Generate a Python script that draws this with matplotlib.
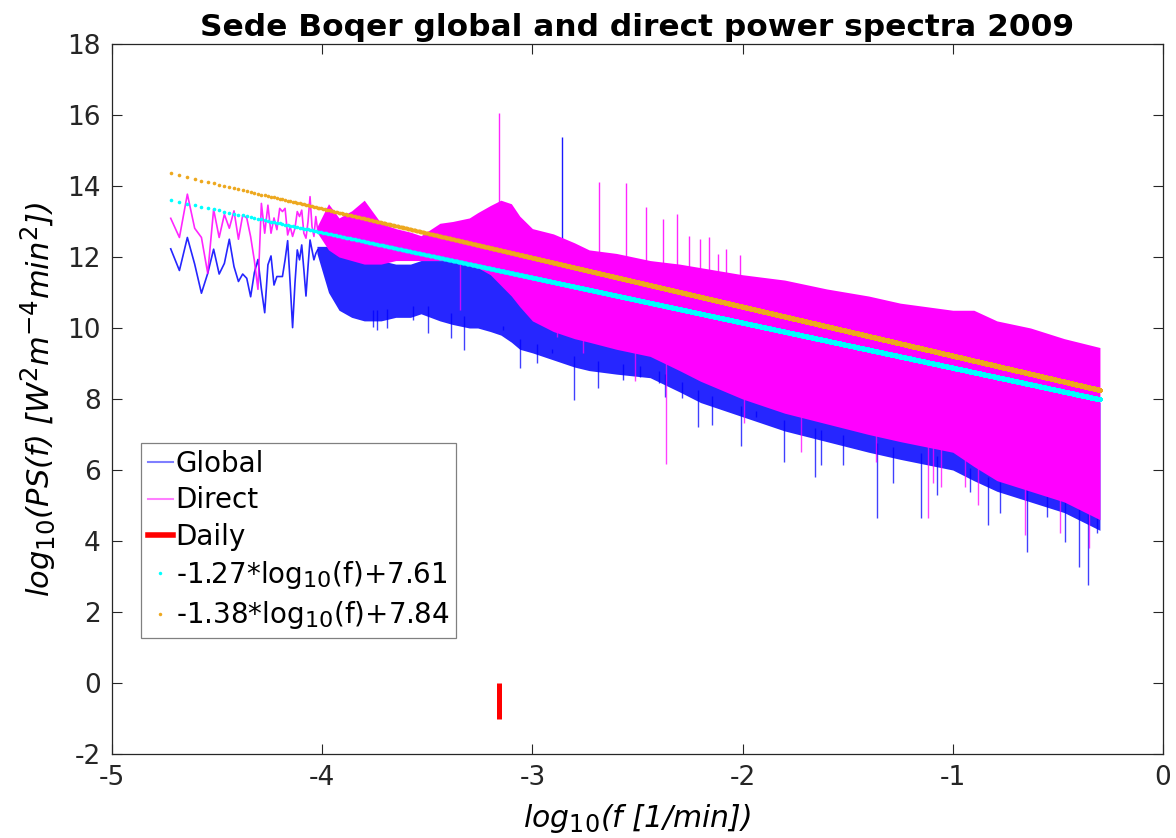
import numpy as np
import matplotlib
matplotlib.use('Agg')
import matplotlib.pyplot as plt
from matplotlib.lines import Line2D
try:
    import matplotlib._mathtext as _mt
    _mt.SHRINK_FACTOR = 0.8
except Exception:
    pass

plt.rcParams['font.family'] = ['DejaVu Sans']
plt.rcParams['mathtext.fontset'] = 'dejavusans'
plt.rcParams['mathtext.default'] = 'regular'
plt.rcParams['axes.unicode_minus'] = False

# ---------------- data ----------------
n_minutes = 525600          # one year of 1-minute samples
k_first = 10                # first plotted frequency index
k_last = 262800             # Nyquist index

# low-frequency part: one value per frequency index k = 10..50 (f = k / n_minutes)
k_low = list(range(10, 51))
global_low = [12.23, 11.62, 12.55, 11.80, 10.98, 11.54, 12.22, 11.52, 11.82, 12.50,
              11.73, 11.31, 11.52, 11.40, 10.88, 11.56, 11.93, 11.10, 10.43, 11.78,
              12.03, 11.21, 11.45, 11.45, 11.45, 11.92, 12.46, 11.26, 10.01, 11.26,
              12.20, 11.92, 12.34, 11.64, 10.90, 11.73, 12.48, 12.20, 11.92, 12.10,
              12.20]
direct_low = [13.09, 12.55, 13.77, 12.81, 12.55, 11.54, 13.34, 12.55, 13.20, 12.81,
              13.30, 12.50, 13.18, 13.10, 12.57, 11.90, 11.09, 13.51, 12.67, 13.46,
              12.67, 13.10, 12.77, 13.37, 13.28, 13.37, 12.62, 12.86, 12.58, 12.81,
              13.28, 13.14, 13.32, 12.67, 12.53, 13.00, 13.70, 12.86, 12.58, 13.14,
              12.77]

# dense part: envelopes of the spectra (x = log10 f)
env_x = [-4.025, -3.97, -3.92, -3.86, -3.80, -3.72, -3.65, -3.58, -3.53, -3.44, -3.38,
         -3.30, -3.26, -3.20, -3.15, -3.10, -3.06, -3.00, -2.90, -2.80, -2.73,
         -2.60, -2.44, -2.30, -2.20, -2.00, -1.80, -1.60, -1.40, -1.25, -1.00,
         -0.90, -0.79, -0.63, -0.47, -0.30]
direct_upper = [12.85, 13.5, 13.1, 13.3, 13.6, 12.95, 12.8, 12.7, 12.6, 12.95, 13.0,
                13.1, 13.25, 13.45, 13.6, 13.5, 13.15, 12.8, 12.65, 12.4, 12.2,
                12.1, 11.9, 11.8, 11.7, 11.5, 11.35, 11.1, 10.9, 10.7, 10.5,
                10.5, 10.2, 10.0, 9.7, 9.45]
direct_lower = [12.7, 12.2, 12.0, 11.9, 11.8, 11.8, 11.9, 11.9, 11.9, 11.9, 11.9,
                11.8, 11.7, 11.5, 11.2, 10.9, 10.6, 10.2, 9.9, 9.7, 9.6,
                9.4, 9.2, 8.8, 8.5, 8.0, 7.6, 7.3, 7.0, 6.8, 6.5,
                6.1, 5.7, 5.4, 5.1, 4.6]
global_upper = [12.3, 12.3, 12.1, 12.0, 12.1, 11.9, 11.8, 11.8, 11.9, 11.9, 11.9,
                12.0, 12.1, 12.3, 12.4, 12.0, 11.8, 11.6, 11.4, 11.2, 11.1,
                10.9, 10.7, 10.5, 10.4, 10.1, 9.9, 9.6, 9.4, 9.2, 8.9,
                8.8, 8.6, 8.4, 8.1, 7.9]
global_lower = [12.1, 11.0, 10.5, 10.3, 10.2, 10.2, 10.3, 10.3, 10.4, 10.2, 10.1,
                10.0, 10.0, 9.9, 9.8, 9.6, 9.4, 9.3, 9.1, 8.9, 8.8,
                8.7, 8.6, 8.2, 7.9, 7.5, 7.1, 6.8, 6.5, 6.3, 6.0,
                5.7, 5.4, 5.1, 4.8, 4.3]

# isolated peaks (x = log10 f, value)
direct_peak_x = [-3.158, -2.681, -2.556, -2.459, -2.380, -2.313, -2.255, -2.204,
                 -2.158, -2.117, -2.079, -2.012]
direct_peak_top = [16.05, 14.10, 14.08, 13.42, 13.06, 13.21, 12.59, 12.52,
                   12.57, 12.08, 12.22, 12.06]
global_peak_x = [-2.857]
global_peak_top = [15.38]

# isolated dips
global_dip_x = [-3.757, -3.741, -3.693, -3.567, -3.495, -3.389, -3.325, -3.138,
                -3.059, -2.980, -2.908, -2.800, -2.686, -2.570, -2.488, -2.400,
                -2.369, -2.290, -2.214, -2.147, -2.008, -1.934, -1.802, -1.656,
                -1.627, -1.524, -1.362, -1.283, -1.153, -1.074, -0.918, -0.831,
                -0.776, -0.649, -0.554, -0.466, -0.400, -0.355, -0.316]
global_dip_bottom = [10.04, 9.94, 9.99, 10.23, 9.85, 9.71, 9.38, 9.94,
                     8.86, 9.00, 9.29, 7.97, 8.30, 8.54, 8.63, 8.44,
                     8.06, 8.02, 7.22, 7.27, 6.68, 7.50, 6.23, 5.81,
                     6.14, 6.14, 4.64, 5.63, 4.64, 5.30, 5.39, 4.45,
                     4.78, 3.70, 4.69, 3.98, 3.28, 2.76, 4.22]
direct_dip_x = [-3.344, -2.885, -2.758, -2.510, -2.366, -1.993, -1.720, -1.367,
                -1.116, -1.093, -1.056, -0.942, -0.879, -0.657, -0.490, -0.351]
direct_dip_bottom = [10.50, 9.75, 9.29, 8.50, 6.17, 7.31, 6.52, 6.23,
                     4.64, 5.63, 5.53, 5.53, 5.01, 4.17, 4.22, 3.79]

# power-law fits
fit_slope = [-1.27, -1.38]
fit_intercept = [7.61, 7.84]
fit_colors = ['#00FFFF', '#EDA81F']

# daily marker
daily_period_min = 1440
daily_y = [-1, 0]

# ---------------- plot ----------------
fig = plt.figure(figsize=(11.76, 8.38), dpi=100)
ax = fig.add_axes([112/1176, 1-754/838, 1051/1176, 710/838])

blue = (0, 0, 1)
mag = (1, 0, 1)

x_low = np.log10(np.array(k_low) / n_minutes)

# Global
ax.plot(x_low, global_low, color=blue, lw=1.2, alpha=0.85, zorder=2)
ax.fill_between(env_x, global_lower, global_upper, color=blue, lw=0, alpha=0.85, zorder=2)
gl_top = np.interp(global_dip_x, env_x, global_lower) + 0.3
ax.vlines(global_dip_x, global_dip_bottom, gl_top, color=blue, lw=1.0, alpha=0.75, zorder=2)
gp_bot = np.interp(global_peak_x, env_x, global_upper) - 0.3
ax.vlines(global_peak_x, gp_bot, global_peak_top, color=blue, lw=1.0, alpha=0.9, zorder=2)

# Direct
ax.plot(x_low, direct_low, color=mag, lw=1.2, alpha=0.85, zorder=3)
ax.fill_between(env_x, direct_lower, direct_upper, color=mag, lw=0, alpha=1.0, zorder=3)
dl_top = np.interp(direct_dip_x, env_x, direct_lower) + 0.3
ax.vlines(direct_dip_x, direct_dip_bottom, dl_top, color=mag, lw=1.0, alpha=0.75, zorder=3)
dp_bot = np.interp(direct_peak_x, env_x, direct_upper) - 0.3
ax.vlines(direct_peak_x, dp_bot, direct_peak_top, color=mag, lw=1.0, alpha=0.85, zorder=3)

# Daily
x_daily = np.log10(1.0 / daily_period_min)
ax.plot([x_daily, x_daily], daily_y, color='red', lw=3.6, zorder=4, solid_capstyle='butt')

# fits evaluated on the frequency grid
x_all = np.log10(np.arange(k_first, k_last + 1) / n_minutes)
for s, b, c in zip(fit_slope, fit_intercept, fit_colors):
    ax.plot(x_all, s * x_all + b, ls='none', marker='o', ms=2.6, mew=0, color=c, zorder=5)

ax.set_xlim(-5, 0)
ax.set_ylim(-2, 18)
ax.set_xticks(range(-5, 1))
ax.set_yticks(range(-2, 19, 2))
ax.tick_params(direction='in', top=True, right=True, length=7, width=0.8,
               colors='#262626', labelsize=19, pad=8)
for sp in ax.spines.values():
    sp.set_color('#262626')
    sp.set_linewidth(0.9)

ax.set_title('Sede Boqer global and direct power spectra 2009', fontsize=22.5,
             fontweight='bold', pad=6)
ax.set_xlabel(r'log$_{\mathit{10}}$(f [1/min])', fontsize=21.5, fontstyle='italic',
              labelpad=8)
ax.set_ylabel(r'log$_{\mathit{10}}$(PS(f) [W$^{\mathit{2}}$m$^{\mathit{-4}}$min$^{\mathit{2}}$])',
              fontsize=22, fontstyle='italic', labelpad=6)

handles = [
    Line2D([], [], color=blue, alpha=0.5, lw=1.5),
    Line2D([], [], color=mag, alpha=0.5, lw=1.5),
    Line2D([], [], color='red', lw=4),
    Line2D([], [], color=fit_colors[0], ls='none', marker='o', ms=2.5, mew=0),
    Line2D([], [], color=fit_colors[1], ls='none', marker='o', ms=2.5, mew=0),
]
labels = ['Global', 'Direct', 'Daily',
          r'-1.27*log$_{10}$(f)+7.61', r'-1.38*log$_{10}$(f)+7.84']
leg = ax.legend(handles, labels, loc='upper left',
                bbox_to_anchor=((141 - 112) / 1051, (754 - 443) / 710),
                borderaxespad=0, fontsize=20, handlelength=0.9, handletextpad=0.1,
                borderpad=0.25, labelspacing=0.3, fancybox=False, framealpha=1,
                edgecolor='#808080', numpoints=1)
leg.get_frame().set_linewidth(0.9)

fig.savefig('out.png', dpi=100)
